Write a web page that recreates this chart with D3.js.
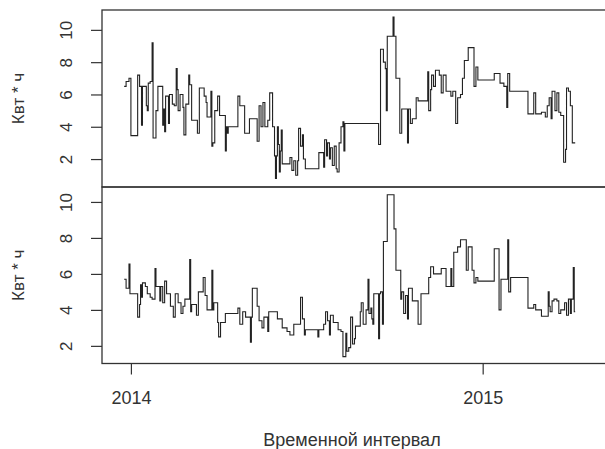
<!DOCTYPE html>
<html><head><meta charset="utf-8">
<script src="https://cdn.jsdelivr.net/npm/d3@7"></script>
<style>body{margin:0;background:#fff}svg{display:block}</style>
</head><body><svg id="c" width="605" height="449"></svg>
<script>
// Day offsets from 2014-01-01 where a step begins, and its value (kWh)
const topDays = [-7,-5,-2,0,7,9,11,12,16,17,18,20,22,23,26,28,33,34,35,36,39,40,43,45,47,48,49,51,54,55,57,60,61,63,69,71,76,78,79,83,84,85,87,90,92,98,99,100,101,111,113,118,123,131,133,135,137,139,142,144,147,149,150,151,152,153,154,155,156,157,165,167,169,171,173,174,176,178,179,181,195,200,201,203,204,206,207,209,211,213,214,216,218,220,221,222,257,259,262,264,265,266,272,273,275,279,281,287,288,290,292,296,298,308,309,311,312,314,316,320,322,324,327,332,334,337,339,342,344,346,350,356,358,360,377,383,387,390,391,393,412,418,420,426,430,432,434,436,437,440,442,444,446,449,451,452,454,456,458,461];
const topVals = [6.5,6.8,7.0,3.45,7.2,6.5,4.1,6.5,5.3,5.0,6.7,6.8,9.2,3.3,5.0,6.5,4.1,5.1,3.7,5.9,4.2,6.0,5.4,5.3,7.6,6.3,5.0,6.0,5.2,3.5,5.4,7.2,6.6,4.4,3.6,6.4,5.9,5.5,4.6,6.2,2.8,3.0,5.0,5.9,4.7,2.5,4.0,3.6,4.0,5.9,5.3,3.6,4.5,3.1,5.3,4.0,5.5,4.0,4.4,6.1,4.0,2.2,0.8,2.2,4.0,2.9,1.2,2.5,3.8,1.7,2.1,1.3,1.9,1.0,1.9,3.9,2.8,3.5,2.0,1.4,2.4,1.5,3.2,2.2,3.0,2.0,2.7,1.6,2.8,1.4,1.2,3.0,4.0,4.3,2.5,4.2,2.9,8.8,8.0,7.6,5.0,9.6,10.8,9.6,7.0,3.6,5.1,3.0,5.1,4.2,4.5,5.8,5.6,7.4,5.0,6.3,7.2,6.5,7.5,7.2,6.1,7.2,6.2,5.9,6.2,4.2,5.8,6.0,7.0,8.1,8.9,6.5,7.7,6.9,7.3,6.7,6.5,5.2,7.3,6.2,4.8,6.1,4.8,4.9,4.6,5.3,5.8,4.5,6.2,5.0,6.1,4.9,4.7,1.8,2.6,6.4,6.2,5.3,3.0,3.0];

const bottomDays = [-7,-5,-2,-1,7,9,10,11,12,15,17,20,22,25,26,30,31,33,35,37,41,44,46,49,52,54,56,61,62,63,68,70,75,77,79,84,85,86,90,91,93,98,111,113,116,119,124,125,126,131,133,136,138,142,143,152,157,162,165,169,176,178,180,181,194,195,200,202,204,206,207,210,215,218,220,223,224,226,228,230,232,233,238,239,241,244,246,247,249,250,251,252,257,258,259,261,262,266,273,275,280,281,283,285,287,288,292,296,298,301,309,311,314,322,327,332,333,335,339,342,348,350,354,356,358,360,377,382,384,391,392,394,412,418,420,426,433,434,435,437,439,442,444,446,450,452,454,456,457,459,460,461];
const bottomVals = [5.7,5.2,6.55,4.9,3.6,4.3,5.4,4.7,5.5,5.3,4.9,4.7,4.6,6.3,5.3,4.5,5.3,4.4,5.6,4.9,4.2,3.6,4.9,4.4,3.8,4.2,4.6,6.8,3.9,4.3,3.7,5.0,5.8,4.8,4.0,6.2,4.0,4.4,3.3,2.5,3.3,3.8,4.1,3.2,3.9,3.6,2.2,3.6,5.2,4.2,3.4,3.0,3.6,2.8,3.9,3.5,3.0,2.8,2.6,3.2,4.7,3.5,2.6,2.9,2.5,2.9,3.2,3.9,3.4,2.6,3.7,3.3,2.9,2.8,1.4,2.7,1.7,1.9,3.6,2.1,2.4,3.1,3.9,4.4,3.2,4.0,5.7,3.8,4.1,3.5,3.2,4.9,2.4,4.9,5.0,3.2,7.8,10.4,8.5,6.2,4.6,5.0,3.8,4.8,3.5,5.2,4.5,4.5,3.2,4.9,5.8,6.4,6.0,6.3,5.3,6.3,5.3,7.2,7.5,7.9,6.2,7.5,6.2,5.5,5.8,5.6,7.4,4.0,5.7,7.9,5.0,5.8,4.1,4.3,4.0,3.65,5.0,4.2,3.9,4.5,4.6,4.5,3.8,4.0,4.4,3.7,4.6,3.8,4.6,6.35,3.9,3.9];

const yTicks = [2,4,6,8,10];
const yTitle = "Квт * ч";
const xTitle = "Временной интервал";
const xDomain = ["2013-12-02","2015-05-10"];

const svg = d3.select("#c");
const base = new Date(2014,0,1);
const parse = s => { const [y,m,d] = s.split("-").map(Number); return new Date(y,m-1,d); };
const toPts = (days, vals) => days.map((d,i)=>({date:d3.timeDay.offset(base,d), v:vals[i]}));

const left = 102, right = 607;
const x = d3.scaleTime().domain(xDomain.map(parse)).range([left, right]);

const panels = [
  {pts: toPts(topDays, topVals), top: 10, bottom: 187, y: d3.scaleLinear().domain([0.27, 11.23]).range([187, 10])},
  {pts: toPts(bottomDays, bottomVals), top: 187, bottom: 363.5, y: d3.scaleLinear().domain([1.02, 10.83]).range([363.5, 187])}
];

const fontFam = "Liberation Sans, Arial, Helvetica, sans-serif";

panels.forEach((p, idx) => {
  const g = svg.append("g");
  const line = d3.line().x(d=>x(d.date)).y(d=>p.y(d.v)).curve(d3.curveStepAfter);
  g.append("path").datum(p.pts).attr("d", line)
    .attr("fill","none").attr("stroke","#222").attr("stroke-width",1.1);

  // frame
  g.append("rect").attr("x", left).attr("y", p.top).attr("width", right+5-left).attr("height", p.bottom-p.top)
    .attr("fill","none").attr("stroke","#333").attr("stroke-width",1.3);

  // y axis
  const ax = g.append("g").attr("transform",`translate(${left},0)`)
    .call(d3.axisLeft(p.y).tickValues(yTicks).tickSize(11).tickSizeOuter(0).tickFormat(d3.format("d")));
  ax.select(".domain").remove();
  ax.selectAll(".tick line").attr("stroke","#333").attr("stroke-width",1.2);
  ax.selectAll(".tick text")
    .attr("x",0).attr("dy",0)
    .attr("transform","translate(-30,0) rotate(-90)")
    .attr("text-anchor","middle")
    .attr("font-family",fontFam).attr("font-size",17).attr("fill","#333");

  svg.append("text").text(yTitle)
    .attr("transform",`translate(24,${(p.top+p.bottom)/2}) rotate(-90)`)
    .attr("text-anchor","middle").attr("font-family",fontFam).attr("font-size",17).attr("fill","#333");
});

// x axis on bottom panel
const xa = svg.append("g").attr("transform","translate(0,363.5)")
  .call(d3.axisBottom(x).ticks(d3.timeYear.every(1)).tickSize(11).tickSizeOuter(0).tickFormat(d3.timeFormat("%Y")));
xa.select(".domain").remove();
xa.selectAll(".tick line").attr("stroke","#333").attr("stroke-width",1.2);
xa.selectAll(".tick text").attr("y",0).attr("dy",0).attr("transform","translate(0,40)")
  .attr("font-family",fontFam).attr("font-size",18).attr("fill","#333");

svg.append("text").text(xTitle).attr("x",352).attr("y",446)
  .attr("text-anchor","middle").attr("font-family",fontFam).attr("font-size",18).attr("fill","#333");
</script></body></html>
